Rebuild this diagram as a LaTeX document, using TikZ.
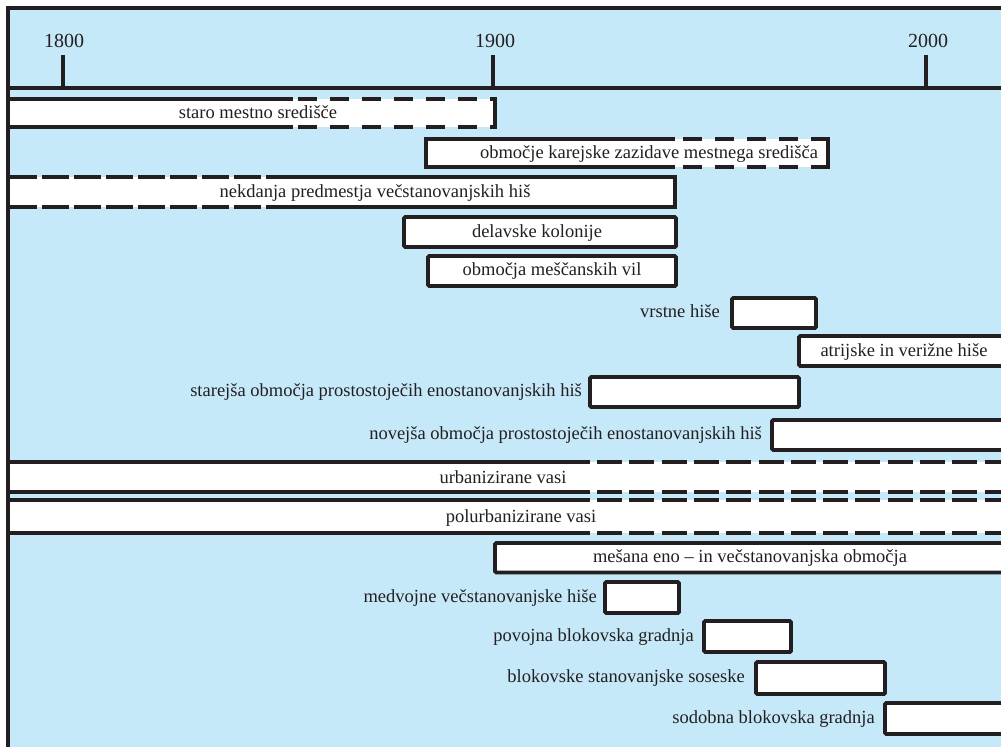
\documentclass[tikz,border=0pt]{standalone}
\usepackage{fontspec}
\setmainfont{Liberation Serif}
\definecolor{bgblue}{RGB}{198,233,249}
\definecolor{ink}{RGB}{35,31,32}
\tikzset{
  frameline/.style={draw=ink, line width=3.8pt, line join=miter},
  edge/.style={draw=ink, line width=3.7pt, line join=miter},
  bx/.style={draw=ink, line width=3.8pt, fill=white, rounded corners=1.2pt},
  dshA/.style={edge, dash pattern=on 19pt off 13pt},
  dshB/.style={edge, dash pattern=on 27pt off 5pt},
  dshC/.style={edge, dash pattern=on 25pt off 7.3pt},
  lbl/.style={text=ink, inner sep=0pt, font=\fontsize{18.5}{20}\selectfont},
  lblc/.style={lbl, anchor=base},
  lblr/.style={lbl, anchor=base east},
  yearlbl/.style={lbl, anchor=base, font=\fontsize{20}{22}\selectfont},
}
\begin{document}
\begin{tikzpicture}[x=1pt,y=-1pt]
\useasboundingbox (0,0) rectangle (1001,747);
\clip (0,0) rectangle (1001,747);
\fill[bgblue] (8,8) rectangle (1001,747);

% time axis
\draw[edge] (8,88) -- (1001,88);
\draw[edge] (63,55) -- (63,88);
\draw[edge] (493,55) -- (493,88);
\draw[edge] (926,55) -- (926,88);
\node[yearlbl] (y1800) at (64,47) {1800};
\node[yearlbl] (y1900) at (495,47) {1900};
\node[yearlbl] (y2000) at (928,47) {2000};

% staro mestno sredisce
\fill[white] (8,99) rectangle (495,127);
\draw[edge] (8,99) -- (293,99);
\draw[edge] (8,127) -- (293,127);
\draw[dshA] (298,99) -- (495,99);
\draw[dshA] (298,127) -- (495,127);
\draw[edge] (495,97.15) -- (495,128.85);
\node[lblc] (t1) at (258,118) {staro mestno središče};

% karejska zazidava
\fill[white] (426,139) rectangle (828,167);
\draw[edge] (675,139) -- (426,139) -- (426,167) -- (675,167);
\draw[dshA] (683,139) -- (828,139);
\draw[dshA] (683,167) -- (828,167);
\draw[edge] (828,137.15) -- (828,168.85);
\node[lblc] (t2) at (649,158) {območje karejske zazidave mestnega središča};

% nekdanja predmestja
\fill[white] (8,177) rectangle (675,207);
\draw[dshB] (10,177) -- (267,177);
\draw[dshB] (10,207) -- (267,207);
\draw[edge] (267,177) -- (675,177) -- (675,207) -- (267,207);
\node[lblc] (t3) at (375,197) {nekdanja predmestja večstanovanjskih hiš};

% delavske kolonije
\draw[bx] (404,217) rectangle (676,247);
\node[lblc] (t4) at (537,237) {delavske kolonije};

% mescanske vile
\draw[bx] (428,256) rectangle (676,286);
\node[lblc] (t5) at (552,275) {območja meščanskih vil};

% vrstne hise
\draw[bx] (732,298) rectangle (816,328);
\node[lblr] (t6) at (720,317.5) {vrstne hiše};

% atrijske
\draw[bx] (799,336) rectangle (1012,366);
\node[lblc] (t7) at (904,356) {atrijske in verižne hiše};

% starejsa
\draw[bx] (590,377) rectangle (799,407);
\node[lblr] (t8) at (582,396.5) {starejša območja prostostoječih enostanovanjskih hiš};

% novejsa
\draw[bx] (772,420) rectangle (1012,450);
\node[lblr] (t9) at (762,439.5) {novejša območja prostostoječih enostanovanjskih hiš};

% urbanizirane vasi
\fill[white] (8,461.7) rectangle (1001,492);
\draw[edge] (8,461.7) -- (590,461.7);
\draw[edge] (8,492) -- (590,492);
\draw[dshC] (597,461.7) -- (1001,461.7);
\draw[dshC] (597,492) -- (1001,492);
\node[lblc] (t10) at (503,483) {urbanizirane vasi};

% polurbanizirane vasi
\fill[white] (8,500.3) rectangle (1001,533);
\draw[edge] (8,500.3) -- (590,500.3);
\draw[edge] (8,533) -- (590,533);
\draw[dshC] (597,500.3) -- (1001,500.3);
\draw[dshC] (597,533) -- (1001,533);
\node[lblc] (t11) at (521,522) {polurbanizirane vasi};

% mesana
\draw[bx] (495,543) rectangle (1012,572.5);
\node[lblc] (t12) at (750,562) {mešana eno – in večstanovanjska območja};

% medvojne
\draw[bx] (605,582) rectangle (679,613);
\node[lblr] (t13) at (597,602) {medvojne večstanovanjske hiše};

% povojna
\draw[bx] (704,621) rectangle (791,652);
\node[lblr] (t14) at (694,641) {povojna blokovska gradnja};

% blokovske soseske
\draw[bx] (756,662) rectangle (885,694);
\node[lblr] (t15) at (745,682.5) {blokovske stanovanjske soseske};

% sodobna
\draw[bx] (885,703) rectangle (1012,734);
\node[lblr] (t16) at (875,723) {sodobna blokovska gradnja};

% frame
\draw[frameline] (8,747) -- (8,8) -- (1001,8);
\end{tikzpicture}
\end{document}
